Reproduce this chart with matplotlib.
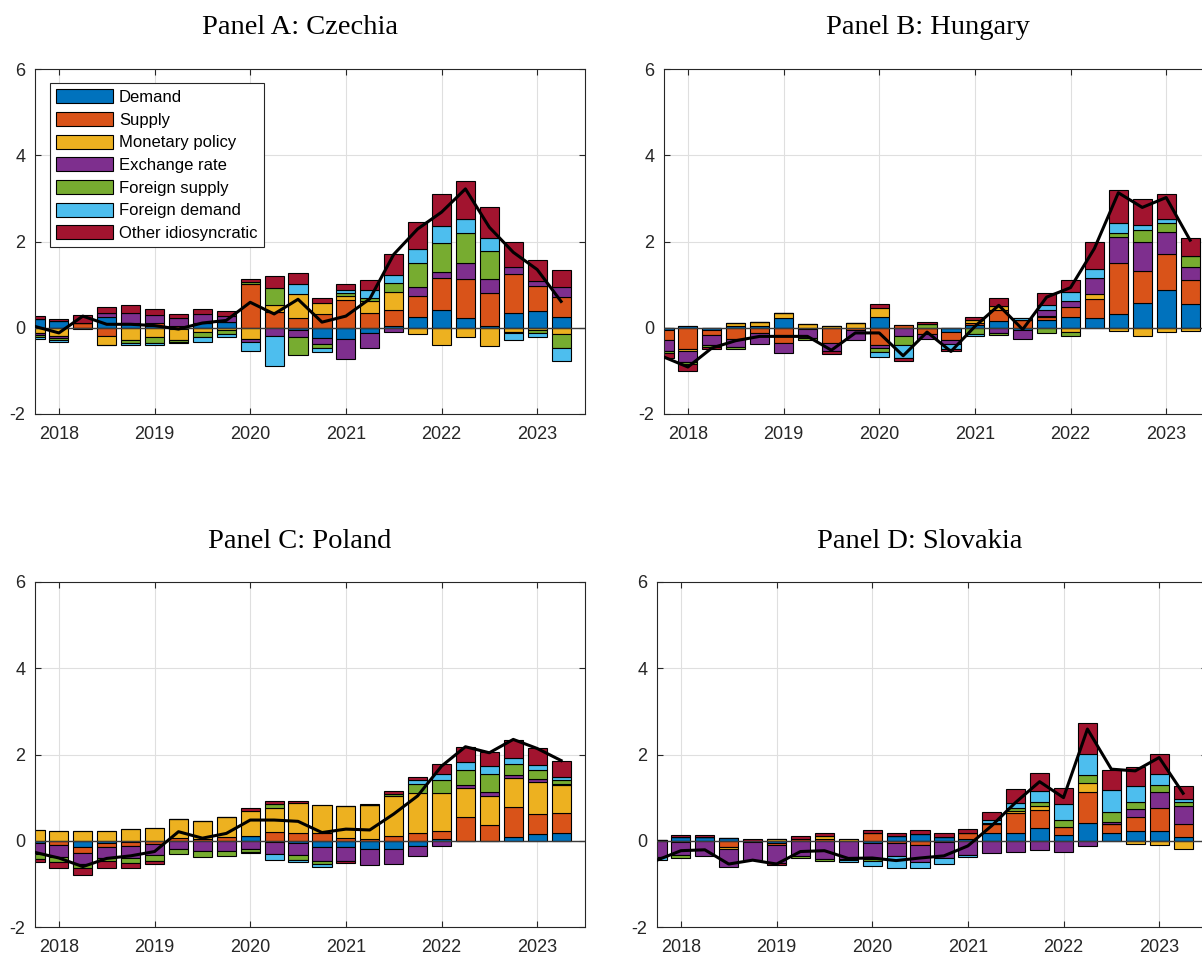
import matplotlib
matplotlib.use("Agg")
import matplotlib.pyplot as plt
import numpy as np
from matplotlib.patches import Patch


FIG_W, FIG_H = 1202, 956
DPI = 100

QUARTERS = [
    "2017Q4",
    "2018Q1", "2018Q2", "2018Q3", "2018Q4",
    "2019Q1", "2019Q2", "2019Q3", "2019Q4",
    "2020Q1", "2020Q2", "2020Q3", "2020Q4",
    "2021Q1", "2021Q2", "2021Q3", "2021Q4",
    "2022Q1", "2022Q2", "2022Q3", "2022Q4",
    "2023Q1", "2023Q2",
]
YEAR_TICKS = [2018, 2019, 2020, 2021, 2022, 2023]
Y_TICKS = [-2, 0, 2, 4, 6]

SHOCKS = [
    "Demand",
    "Supply",
    "Monetary policy",
    "Exchange rate",
    "Foreign supply",
    "Foreign demand",
    "Other idiosyncratic",
]
SHOCK_COLORS = ["#0072BD", "#D95319", "#EDB120", "#7E2F8E", "#77AC30", "#4DBEEE", "#A2142F"]

# Panel A: Czechia
CZ_DEMAND = [0.2, 0.16, 0.0, 0.25, 0.12, 0.05, -0.03, 0.11, 0.13, 0.0, 0.0, -0.06, -0.24, -0.25, -0.12, 0.05, 0.25, 0.42, 0.23, 0.03, 0.34, 0.39, 0.25]
CZ_SUPPLY = [0.0, 0.0, 0.11, -0.19, 0.0, 0.07, 0.04, 0.0, 0.0, 1.02, 0.36, 0.22, 0.31, 0.65, 0.35, 0.36, 0.49, 0.74, 0.9, 0.77, 0.91, 0.58, 0.46]
CZ_MONETARY = [-0.12, -0.19, -0.02, -0.2, -0.29, -0.22, -0.26, -0.1, -0.06, -0.27, 0.17, 0.56, 0.27, 0.08, 0.27, 0.42, -0.15, -0.41, -0.22, -0.42, -0.1, -0.06, -0.14]
CZ_EXCHANGE = [-0.04, -0.04, 0.0, 0.1, 0.23, 0.17, 0.18, 0.2, 0.14, -0.06, -0.19, -0.15, -0.13, -0.48, -0.34, -0.1, 0.2, 0.14, 0.37, 0.32, 0.15, 0.12, 0.23]
CZ_FOREIGN_SUPPLY = [-0.05, -0.05, 0.0, -0.02, -0.07, -0.13, -0.03, -0.12, -0.08, 0.05, 0.39, -0.42, -0.1, 0.08, 0.08, 0.2, 0.56, 0.67, 0.69, 0.66, -0.03, -0.06, -0.33]
CZ_FOREIGN_DEMAND = [-0.04, -0.06, 0.0, 0.0, -0.05, -0.06, -0.03, -0.1, -0.08, -0.2, -0.7, 0.23, -0.1, 0.06, 0.17, 0.19, 0.32, 0.4, 0.33, 0.31, -0.15, -0.09, -0.29]
CZ_OTHER = [0.07, 0.05, 0.18, 0.14, 0.17, 0.14, 0.1, 0.12, 0.12, 0.06, 0.29, 0.26, 0.12, 0.14, 0.24, 0.49, 0.64, 0.73, 0.89, 0.7, 0.6, 0.49, 0.41]
CZ_INFLATION = [0.03, -0.12, 0.27, 0.08, 0.08, 0.05, -0.03, 0.11, 0.17, 0.59, 0.32, 0.66, 0.13, 0.27, 0.67, 1.7, 2.29, 2.68, 3.22, 2.33, 1.75, 1.35, 0.61]

# Panel B: Hungary
HU_DEMAND = [-0.06, 0.05, -0.06, 0.04, 0.04, 0.23, -0.03, 0.0, 0.0, 0.26, 0.0, 0.0, -0.1, 0.07, 0.15, -0.06, 0.19, 0.26, 0.23, 0.33, 0.57, 0.87, 0.56]
HU_SUPPLY = [-0.22, -0.49, -0.1, -0.26, -0.12, -0.35, 0.0, -0.35, -0.06, -0.41, 0.07, -0.15, -0.18, 0.04, 0.27, 0.17, 0.06, 0.23, 0.44, 1.16, 0.74, 0.85, 0.54]
HU_MONETARY = [0.0, -0.04, 0.0, 0.08, 0.1, 0.12, 0.08, 0.05, 0.12, 0.19, 0.0, 0.0, 0.0, 0.06, 0.09, 0.0, 0.03, -0.1, 0.12, -0.08, -0.19, -0.1, -0.08]
HU_EXCHANGE = [-0.26, -0.27, -0.23, -0.19, -0.25, -0.23, -0.2, -0.2, -0.22, -0.06, -0.18, -0.12, -0.09, 0.0, -0.12, -0.2, 0.13, 0.14, 0.37, 0.62, 0.67, 0.49, 0.31]
HU_FOREIGN_SUPPLY = [-0.05, -0.04, -0.05, -0.05, 0.0, 0.0, -0.05, 0.0, 0.0, -0.1, -0.23, 0.09, 0.0, -0.14, -0.04, 0.0, -0.12, -0.08, 0.0, 0.08, 0.29, 0.23, 0.25]
HU_FOREIGN_DEMAND = [0.0, 0.0, 0.0, 0.0, 0.0, 0.0, 0.0, 0.0, 0.0, -0.11, -0.29, 0.0, -0.12, -0.05, 0.0, 0.06, 0.12, 0.19, 0.21, 0.23, 0.12, 0.09, 0.0]
HU_OTHER = [-0.11, -0.17, -0.06, 0.0, 0.0, 0.0, 0.0, -0.05, 0.0, 0.1, -0.06, 0.05, -0.05, 0.07, 0.17, 0.0, 0.28, 0.29, 0.63, 0.78, 0.6, 0.57, 0.41]
HU_INFLATION = [-0.68, -0.91, -0.47, -0.3, -0.2, -0.2, -0.2, -0.52, -0.12, -0.12, -0.65, -0.1, -0.55, 0.03, 0.52, -0.04, 0.71, 0.93, 1.84, 3.13, 2.79, 3.02, 2.03]

# Panel C: Poland
PL_DEMAND = [-0.05, 0.0, -0.15, -0.05, -0.04, 0.0, 0.0, 0.0, 0.0, 0.11, -0.04, -0.06, -0.15, -0.14, -0.18, -0.19, -0.13, 0.03, 0.0, 0.0, 0.09, 0.15, 0.19]
PL_SUPPLY = [0.0, -0.1, -0.13, -0.1, -0.08, -0.07, 0.06, 0.04, 0.08, 0.0, 0.21, 0.19, 0.17, 0.06, 0.03, 0.12, 0.19, 0.19, 0.54, 0.37, 0.69, 0.48, 0.46]
PL_MONETARY = [0.25, 0.23, 0.22, 0.23, 0.27, 0.29, 0.44, 0.41, 0.46, 0.57, 0.56, 0.68, 0.65, 0.75, 0.81, 0.91, 0.91, 0.89, 0.69, 0.67, 0.68, 0.74, 0.65]
PL_EXCHANGE = [-0.25, -0.28, -0.25, -0.25, -0.27, -0.25, -0.19, -0.23, -0.23, -0.18, -0.27, -0.26, -0.31, -0.32, -0.38, -0.35, -0.23, -0.12, 0.06, 0.08, 0.06, 0.07, 0.02]
PL_FOREIGN_SUPPLY = [-0.12, -0.12, -0.1, -0.08, -0.12, -0.14, -0.12, -0.15, -0.12, -0.07, 0.08, -0.12, -0.08, 0.0, 0.0, 0.06, 0.21, 0.3, 0.36, 0.42, 0.26, 0.19, 0.1]
PL_FOREIGN_DEMAND = [0.0, 0.0, 0.0, 0.0, 0.0, 0.0, 0.0, 0.0, 0.0, -0.04, -0.14, -0.05, -0.08, 0.0, 0.0, 0.0, 0.09, 0.14, 0.17, 0.19, 0.14, 0.12, 0.06]
PL_OTHER = [-0.08, -0.13, -0.17, -0.15, -0.12, -0.09, 0.0, 0.0, 0.0, 0.09, 0.08, 0.06, 0.0, -0.06, 0.02, 0.06, 0.08, 0.23, 0.35, 0.32, 0.42, 0.41, 0.36]
PL_INFLATION = [-0.27, -0.4, -0.6, -0.41, -0.35, -0.25, 0.21, 0.06, 0.17, 0.48, 0.48, 0.45, 0.19, 0.27, 0.25, 0.62, 1.04, 1.73, 2.18, 2.04, 2.35, 2.14, 1.86]

# Panel D: Slovakia
SK_DEMAND = [0.0, 0.08, 0.08, 0.07, 0.0, -0.05, 0.0, 0.0, 0.0, -0.06, 0.11, 0.16, 0.09, 0.04, 0.17, 0.19, 0.29, 0.14, 0.42, 0.19, 0.22, 0.23, 0.08]
SK_SUPPLY = [0.02, 0.0, 0.0, -0.15, -0.04, -0.05, 0.05, 0.05, 0.0, 0.19, -0.05, -0.09, -0.03, 0.15, 0.22, 0.46, 0.43, 0.19, 0.72, 0.2, 0.32, 0.54, 0.32]
SK_MONETARY = [0.0, -0.03, 0.0, -0.04, 0.0, 0.05, 0.0, 0.05, 0.05, 0.0, 0.0, 0.0, 0.0, 0.0, 0.0, 0.04, 0.08, 0.0, 0.19, 0.0, -0.08, -0.1, -0.18]
SK_EXCHANGE = [-0.38, -0.31, -0.35, -0.42, -0.4, -0.42, -0.36, -0.42, -0.42, -0.36, -0.3, -0.41, -0.36, -0.33, -0.29, -0.27, -0.22, -0.25, -0.13, 0.04, 0.19, 0.37, 0.41]
SK_FOREIGN_SUPPLY = [0.0, -0.06, 0.0, 0.0, 0.0, 0.0, -0.04, -0.04, -0.03, -0.06, 0.0, 0.0, 0.0, 0.0, 0.03, 0.06, 0.09, 0.14, 0.2, 0.23, 0.18, 0.15, 0.08]
SK_FOREIGN_DEMAND = [-0.07, 0.0, 0.0, 0.0, 0.0, 0.0, 0.0, 0.0, -0.04, -0.1, -0.29, -0.13, -0.16, -0.05, 0.05, 0.13, 0.27, 0.39, 0.48, 0.52, 0.36, 0.25, 0.08]
SK_OTHER = [0.0, 0.06, 0.05, 0.0, 0.03, -0.04, 0.06, 0.08, 0.0, 0.05, 0.08, 0.08, 0.08, 0.09, 0.19, 0.32, 0.42, 0.36, 0.71, 0.46, 0.44, 0.48, 0.29]
SK_INFLATION = [-0.45, -0.23, -0.21, -0.54, -0.45, -0.54, -0.25, -0.23, -0.41, -0.4, -0.46, -0.4, -0.35, -0.12, 0.35, 0.89, 1.37, 1.0, 2.59, 1.66, 1.62, 1.93, 1.1]

AXIS_COLOR = "#262626"


def quarter_to_year(label):
    year, quarter = label.split("Q")
    return int(year) + (int(quarter) - 1) / 4


def px_rect(left, top, width=550, height=345):
    return [left / FIG_W, 1 - (top + height) / FIG_H, width / FIG_W, height / FIG_H]


def plot_panel(ax, x, components, inflation):
    pos_base = np.zeros(len(x))
    neg_base = np.zeros(len(x))
    for values, color in zip(components, SHOCK_COLORS):
        values = np.asarray(values, dtype=float)
        bottom = np.where(values >= 0, pos_base, neg_base)
        ax.bar(x, values, width=0.2, bottom=bottom, color=color,
               edgecolor="black", linewidth=0.8, zorder=2)
        pos_base += np.clip(values, 0, None)
        neg_base += np.clip(values, None, 0)

    ax.axhline(0, color="#3a3a3a", linewidth=1.0, zorder=3)
    ax.plot(x, inflation, color="black", linewidth=2.2, zorder=4)

    ax.set_xlim(2017.75, 2023.5)
    ax.set_ylim(-2, 6)
    ax.set_xticks(YEAR_TICKS)
    ax.set_yticks(Y_TICKS)
    ax.grid(True, color="#dfdfdf", linewidth=0.8)
    ax.set_axisbelow(True)
    ax.tick_params(direction="in", top=True, right=True, length=4, width=0.8,
                   colors=AXIS_COLOR, labelsize=13)
    ax.tick_params(axis="x", pad=8.5)
    ax.tick_params(axis="y", pad=7)
    for spine in ax.spines.values():
        spine.set_color(AXIS_COLOR)
        spine.set_linewidth(0.8)


def add_legend(ax):
    handles = [Patch(facecolor=c, edgecolor="black", linewidth=0.8) for c in SHOCK_COLORS]
    leg = ax.legend(
        handles, SHOCKS, loc="upper left",
        bbox_to_anchor=(15 / 550, 1 - 14 / 345), borderaxespad=0,
        fontsize=12, handlelength=3.4, handleheight=0.9, handletextpad=0.35,
        labelspacing=0.42, borderpad=0.38, fancybox=False, framealpha=1,
    )
    leg.get_frame().set_edgecolor(AXIS_COLOR)
    leg.get_frame().set_linewidth(0.8)


def main():
    plt.rcParams["font.family"] = ["Liberation Sans", "DejaVu Sans"]
    plt.rcParams["axes.unicode_minus"] = False
    x = np.array([quarter_to_year(q) for q in QUARTERS])

    panels = [
        ("Panel A: Czechia", px_rect(35, 69), (300, 34),
         [CZ_DEMAND, CZ_SUPPLY, CZ_MONETARY, CZ_EXCHANGE, CZ_FOREIGN_SUPPLY, CZ_FOREIGN_DEMAND, CZ_OTHER],
         CZ_INFLATION),
        ("Panel B: Hungary", px_rect(664, 69), (928, 34),
         [HU_DEMAND, HU_SUPPLY, HU_MONETARY, HU_EXCHANGE, HU_FOREIGN_SUPPLY, HU_FOREIGN_DEMAND, HU_OTHER],
         HU_INFLATION),
        ("Panel C: Poland", px_rect(35, 582), (300, 548),
         [PL_DEMAND, PL_SUPPLY, PL_MONETARY, PL_EXCHANGE, PL_FOREIGN_SUPPLY, PL_FOREIGN_DEMAND, PL_OTHER],
         PL_INFLATION),
        ("Panel D: Slovakia", px_rect(657, 582), (920, 548),
         [SK_DEMAND, SK_SUPPLY, SK_MONETARY, SK_EXCHANGE, SK_FOREIGN_SUPPLY, SK_FOREIGN_DEMAND, SK_OTHER],
         SK_INFLATION),
    ]

    fig = plt.figure(figsize=(FIG_W / DPI, FIG_H / DPI), dpi=DPI)
    for i, (title, rect, title_xy, components, inflation) in enumerate(panels):
        ax = fig.add_axes(rect)
        plot_panel(ax, x, components, inflation)
        if i == 0:
            add_legend(ax)
        fig.text(title_xy[0] / FIG_W, 1 - title_xy[1] / FIG_H, title,
                 ha="center", va="baseline", fontsize=20.5,
                 family="Liberation Serif", color="black")

    fig.savefig("out.png", dpi=DPI)


if __name__ == "__main__":
    main()
